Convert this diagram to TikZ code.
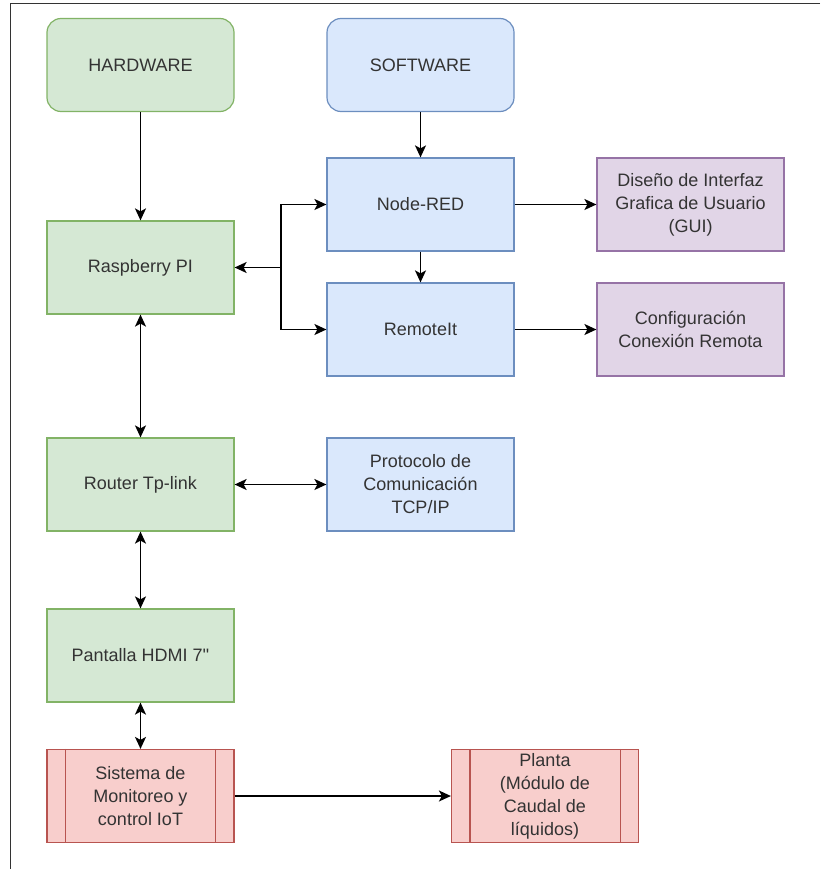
\documentclass[tikz,border=0pt]{standalone}
\usepackage{fontspec}
\setmainfont{Liberation Sans}
\newfontfamily\plainsans{Liberation Sans}
\usetikzlibrary{arrows.meta}
\definecolor{gfill}{HTML}{D5E8D4}\definecolor{gline}{HTML}{82B366}
\definecolor{bfill}{HTML}{DAE8FC}\definecolor{bline}{HTML}{6C8EBF}
\definecolor{pfill}{HTML}{E1D5E7}\definecolor{pline}{HTML}{9673A6}
\definecolor{rfill}{HTML}{F8CECC}\definecolor{rline}{HTML}{B85450}
\definecolor{txt}{HTML}{333333}
\begin{document}
\begin{tikzpicture}[x=1pt,y=-1pt,
  box/.style={rectangle,minimum width=187pt,minimum height=93pt,line width=1.2pt,
    align=center,text=txt,font=\fontsize{18}{23}\selectfont,inner sep=2pt},
  hw/.style={box,draw=gline,fill=gfill},
  sw/.style={box,draw=bline,fill=bfill},
  pu/.style={box,draw=pline,fill=pfill},
  rd/.style={box,draw=rline,fill=rfill},
  rbox/.style={rounded corners=14pt},
  tip/.tip={Stealth[length=12pt,width=11pt,inset=3pt]},
  arr/.style={line width=1.6pt,-tip},
  darr/.style={line width=1.6pt,tip-tip},
  bar/.style={draw=rline,line width=1.2pt}]
\useasboundingbox (0,0) rectangle (820,869);
\draw[line width=1.5pt,color=txt] (820,3.5) -- (10.5,3.5) -- (10.5,869);

\node[hw,rbox] (hw) at (140.5,65) {HARDWARE};
\node[sw,rbox] (sw) at (420.5,65) {SOFTWARE};
\node[sw] (nr) at (420.5,204.5) {Node-RED};
\node[sw] (ri) at (420.5,329.5) {RemoteIt};
\node[pu] (gui) at (690.5,204.5) {Diseño de Interfaz\\Grafica de Usuario\\(GUI)};
\node[pu] (cfg) at (690.5,329.5) {Configuración\\Conexión Remota};
\node[hw] (rp) at (140.5,267.5) {Raspberry PI};
\node[hw] (rt) at (140.5,484.5) {Router Tp-link};
\node[sw] (tcp) at (420.5,484.5) {Protocolo de\\Comunicación\\TCP/IP};
\node[hw] (hd) at (140.5,655.5) {\plainsans Pantalla HDMI 7''};
\node[rd] (sis) at (140.5,796) {Sistema de\\Monitoreo y\\control IoT};
\node[rd] (pl) at (545,796) {Planta\\(Módulo de\\Caudal de\\líquidos)};
\foreach \n in {sis,pl}{
  \draw[bar] ([xshift=19pt]\n.north west) -- ([xshift=19pt]\n.south west);
  \draw[bar] ([xshift=-19pt]\n.north east) -- ([xshift=-19pt]\n.south east);
}

\coordinate (j) at (281,267.5);
\draw[arr] (hw) -- (rp);
\draw[arr] (sw) -- (nr);
\draw[arr] (nr) -- (ri);
\draw[arr] (nr) -- (gui);
\draw[arr] (ri) -- (cfg);
\draw[arr] (j) -- (rp.east);
\draw[arr] (j) |- (nr.west);
\draw[arr] (j) |- (ri.west);
\draw[darr] (rp) -- (rt);
\draw[darr] (rt) -- (tcp);
\draw[darr] (rt) -- (hd);
\draw[darr] (hd) -- (sis);
\draw[arr] (sis) -- (pl);
\end{tikzpicture}
\end{document}
